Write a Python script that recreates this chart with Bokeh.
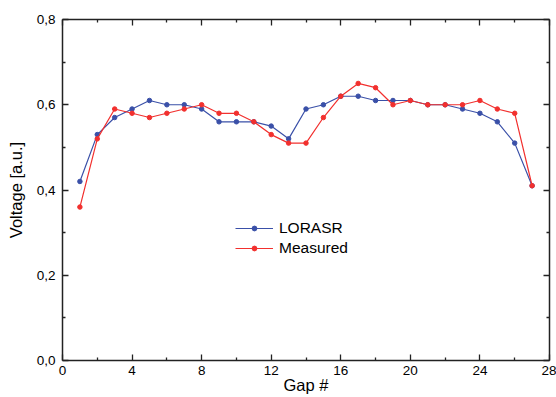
from bokeh.plotting import figure
from bokeh.models import LinearAxis, Range1d, FixedTicker, CustomJSTickFormatter, Legend, LegendItem
from bokeh.embed import file_html
from bokeh.resources import INLINE

gap = list(range(1, 28))
lorasr = [0.42, 0.53, 0.57, 0.59, 0.61, 0.60, 0.60, 0.59, 0.56, 0.56, 0.56, 0.55, 0.52,
          0.59, 0.60, 0.62, 0.62, 0.61, 0.61, 0.61, 0.60, 0.60, 0.59, 0.58, 0.56, 0.51, 0.41]
measured = [0.36, 0.52, 0.59, 0.58, 0.57, 0.58, 0.59, 0.60, 0.58, 0.58, 0.56, 0.53, 0.51,
            0.51, 0.57, 0.62, 0.65, 0.64, 0.60, 0.61, 0.60, 0.60, 0.60, 0.61, 0.59, 0.58, 0.41]
x_ticks = [0, 4, 8, 12, 16, 20, 24, 28]
x_minor = [2, 6, 10, 14, 18, 22, 26]
y_ticks = [0.0, 0.2, 0.4, 0.6, 0.8]
y_minor = [0.1, 0.3, 0.5, 0.7]

BLUE = "#3a50a8"
RED = "#f2302e"
FONT = "Liberation Sans"

p = figure(width=556, height=397, output_backend="svg", toolbar_location=None,
           x_range=Range1d(0, 28), y_range=Range1d(0, 0.8),
           min_border_left=62, min_border_right=7, min_border_top=19, min_border_bottom=37,
           x_axis_label="Gap #", y_axis_label="Voltage [a.u.]")
p.outline_line_color = None
p.grid.visible = False
p.background_fill_color = "white"
p.border_fill_color = "white"

xt = FixedTicker(ticks=x_ticks, minor_ticks=x_minor)
yt = FixedTicker(ticks=y_ticks, minor_ticks=y_minor)
yfmt = CustomJSTickFormatter(code="return tick.toFixed(1).replace('.', ',');")
xfmt = CustomJSTickFormatter(code="return tick.toFixed(0);")

def style(ax, labels=True):
    ax.axis_line_color = "#222222"
    ax.axis_line_width = 1.5
    ax.major_tick_line_color = "#222222"
    ax.minor_tick_line_color = "#222222"
    ax.major_tick_line_width = 1.3
    ax.minor_tick_line_width = 1.3
    ax.major_tick_in = 6
    ax.major_tick_out = 0
    ax.minor_tick_in = 3
    ax.minor_tick_out = 0
    ax.major_label_text_font = FONT
    ax.major_label_text_font_size = "13.5px"
    ax.major_label_text_color = "black"
    ax.axis_label_text_font = FONT
    ax.axis_label_text_font_size = "16.5px"
    ax.axis_label_text_font_style = "normal"
    ax.axis_label_text_color = "black"
    if not labels:
        ax.major_label_text_font_size = "0px"
        ax.major_label_text_color = None

for ax in p.xaxis:
    ax.ticker = xt
    ax.formatter = xfmt
    style(ax)
    ax.major_label_standoff = 5
    ax.axis_label_standoff = -2
for ax in p.yaxis:
    ax.ticker = yt
    ax.formatter = yfmt
    style(ax)
    ax.major_label_standoff = 7
    ax.axis_label_standoff = 9

top = LinearAxis(ticker=FixedTicker(ticks=x_ticks, minor_ticks=x_minor))
style(top, labels=False)
top.major_label_standoff = 0
p.add_layout(top, "above")
right = LinearAxis(ticker=FixedTicker(ticks=y_ticks, minor_ticks=y_minor))
style(right, labels=False)
right.major_label_standoff = 0
p.add_layout(right, "right")

l1 = p.line(gap, lorasr, line_color=BLUE, line_width=1.2)
s1 = p.scatter(gap, lorasr, size=4.5, fill_color=BLUE, line_color=BLUE)
l2 = p.line(gap, measured, line_color=RED, line_width=1.2)
s2 = p.scatter(gap, measured, size=4.5, fill_color=RED, line_color=RED)

legend = Legend(items=[LegendItem(label="LORASR", renderers=[l1, s1]),
                       LegendItem(label="Measured", renderers=[l2, s2])],
                location=(173, 102))
legend.border_line_color = None
legend.background_fill_alpha = 0
legend.padding = 0
legend.margin = 0
legend.spacing = 0
legend.label_height = 20
legend.glyph_height = 12
legend.glyph_width = 38
legend.label_standoff = 6
legend.label_text_font = FONT
legend.label_text_font_size = "15.5px"
legend.label_text_color = "black"
p.add_layout(legend, "center")

open("out.html", "w").write(file_html(p, INLINE))
